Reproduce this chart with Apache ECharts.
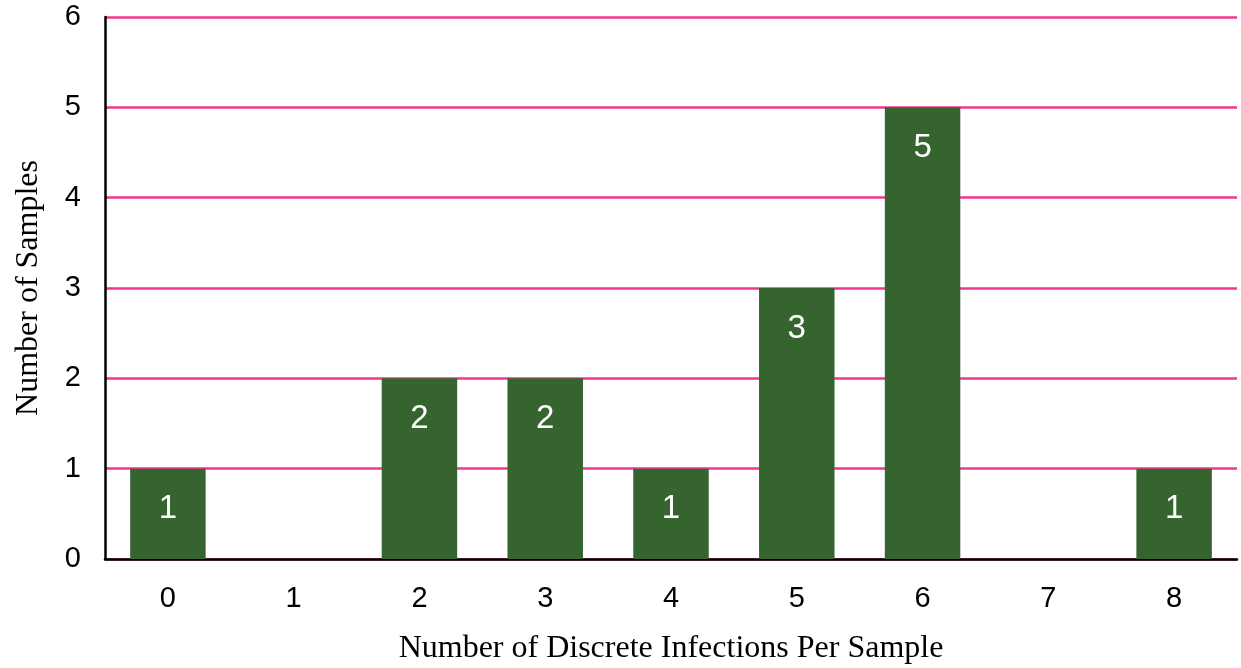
<!DOCTYPE html>
<html>
<head>
<meta charset="utf-8">
<script src="https://cdn.jsdelivr.net/npm/echarts@6/dist/echarts.min.js"></script>
<style>
  html, body { margin: 0; padding: 0; background: #fff; }
  #chart { width: 1241px; height: 668px; }
</style>
</head>
<body>
<div id="chart"></div>
<script>
// infections per sample -> number of samples
const categories = ['0', '1', '2', '3', '4', '5', '6', '7', '8'];
const samples = [1, 0, 2, 2, 1, 3, 5, 0, 1];

const chart = echarts.init(document.getElementById('chart'));
chart.setOption({
  animation: false,
  grid: { left: 105, right: 4, top: 17, bottom: 109, outerBoundsMode: 'none' },
  xAxis: {
    type: 'category',
    data: categories,
    name: 'Number of Discrete Infections Per Sample',
    nameLocation: 'middle',
    nameGap: 74,
    nameTextStyle: { fontFamily: 'Liberation Serif', fontSize: 32, color: '#000' },
    axisLine: { lineStyle: { color: '#000', width: 2.5 } },
    axisTick: { show: false },
    axisLabel: { fontFamily: 'Liberation Sans', fontSize: 29, color: '#000', margin: 25 }
  },
  yAxis: {
    type: 'value',
    min: 0,
    max: 6,
    interval: 1,
    name: 'Number of Samples',
    nameLocation: 'middle',
    nameGap: 60,
    nameTextStyle: { fontFamily: 'Liberation Serif', fontSize: 32, color: '#000' },
    axisLine: { show: true, lineStyle: { color: '#000', width: 2.5 } },
    axisTick: { show: false },
    axisLabel: { fontFamily: 'Liberation Sans', fontSize: 29, color: '#000', margin: 24, padding: [4, 0, 0, 0] },
    splitLine: { lineStyle: { color: '#f2368f', width: 2.5 } }
  },
  series: [{
    type: 'bar',
    data: samples,
    barWidth: '60%',
    itemStyle: { color: '#35642f' },
    label: {
      show: true,
      position: 'insideTop',
      distance: 24,
      color: '#fff',
      fontFamily: 'Liberation Sans',
      fontSize: 33,
      formatter: p => p.value > 0 ? p.value : ''
    }
  }]
});
</script>
</body>
</html>
